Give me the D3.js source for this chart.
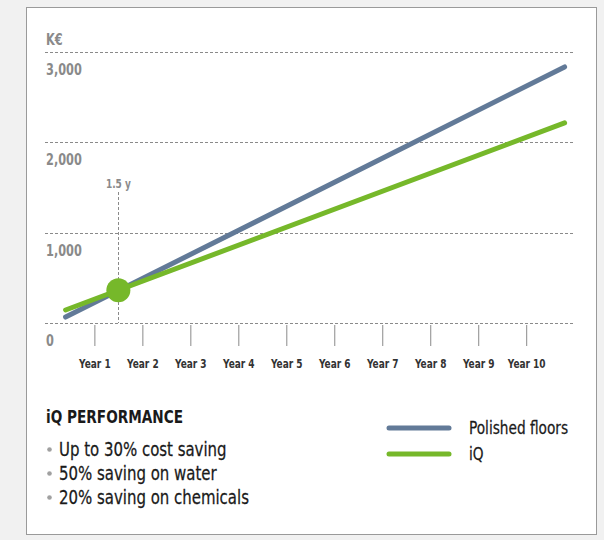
<!DOCTYPE html>
<html>
<head>
<meta charset="utf-8">
<script src="https://cdn.jsdelivr.net/npm/d3@7"></script>
<style>
  body { margin: 0; background: #f1f1f1; }
  text { font-family: "DejaVu Sans Condensed", "DejaVu Sans", sans-serif; }
</style>
</head>
<body>
<svg id="chart" width="604" height="540"></svg>
<script>
const years = ['Year 1', 'Year 2', 'Year 3', 'Year 4', 'Year 5', 'Year 6', 'Year 7', 'Year 8', 'Year 9', 'Year 10'];
const yTicks = [0, 1000, 2000, 3000];
const lineYears = [0.4, 10.8];
const polishedValues = [66, 2835];
const iqValues = [144, 2215];
const breakEvenYear = 1.5;
const breakEvenValue = 362;
const bullets = ['Up to 30% cost saving', '50% saving on water', '20% saving on chemicals'];

const svg = d3.select('#chart');
const blue = '#627a98';
const green = '#76b82a';
const gray = '#8a8a8a';

// text helper: condensed look by squeezing horizontally
const label = (parent, x, y, txt, size, sx) => parent.append('text')
    .attr('transform', `translate(${x}, ${y}) scale(${sx}, 1)`)
    .style('font-size', size + 'px')
    .text(txt);

svg.append('rect')
    .attr('x', 26.5).attr('y', 7.5)
    .attr('width', 570).attr('height', 527)
    .attr('fill', '#fff')
    .attr('stroke', '#9a9a9a');

const xScale = d3.scaleLinear().domain([0, 10]).range([46.4, 526.2]);
const yScale = d3.scaleLinear().domain([0, 3000]).range([323, 52]);

const g = svg.append('g');

// grid
g.selectAll('.grid').data(yTicks)
    .enter().append('line')
    .attr('x1', 45).attr('x2', 575)
    .attr('y1', d => Math.round(yScale(d)) + 0.5)
    .attr('y2', d => Math.round(yScale(d)) + 0.5)
    .attr('stroke', gray)
    .attr('stroke-dasharray', '3,2');

yTicks.forEach(d => {
    label(g, 46, yScale(d) + 23, d3.format(',')(d), 15, 0.84)
        .attr('fill', gray)
        .style('font-weight', 'bold');
});

label(g, 46, 45, 'K€', 15, 0.84)
    .attr('fill', gray)
    .style('font-weight', 'bold');

// x axis ticks
const xAxisG = g.append('g')
    .attr('transform', `translate(0, ${yScale(0)})`)
    .call(d3.axisBottom(xScale)
        .tickValues(d3.range(1, 11))
        .tickSize(23)
        .tickPadding(12)
        .tickFormat((d, i) => years[i]));

xAxisG.select('.domain').remove();
xAxisG.selectAll('.tick line').attr('stroke', gray).attr('y1', 2);
xAxisG.selectAll('.tick text')
    .attr('y', 0)
    .attr('dy', null)
    .attr('transform', 'translate(0, 45) scale(0.8, 1)')
    .attr('fill', '#333')
    .style('font-size', '12.5px')
    .style('font-weight', 'bold')
    .style('font-family', '"DejaVu Sans Condensed", "DejaVu Sans", sans-serif');

// break-even marker
g.append('line')
    .attr('x1', Math.round(xScale(breakEvenYear)) + 0.5)
    .attr('x2', Math.round(xScale(breakEvenYear)) + 0.5)
    .attr('y1', 192).attr('y2', yScale(0))
    .attr('stroke', gray)
    .attr('stroke-dasharray', '3,2');

label(g, xScale(breakEvenYear), 188, '1.5 y', 12.5, 0.8)
    .attr('text-anchor', 'middle')
    .attr('fill', gray)
    .style('font-weight', 'bold');

const line = d3.line()
    .x((d, i) => xScale(lineYears[i]))
    .y(d => yScale(d));

g.append('path')
    .attr('d', line(polishedValues))
    .attr('fill', 'none')
    .attr('stroke', blue)
    .attr('stroke-width', 5)
    .attr('stroke-linecap', 'round');

g.append('path')
    .attr('d', line(iqValues))
    .attr('fill', 'none')
    .attr('stroke', green)
    .attr('stroke-width', 5)
    .attr('stroke-linecap', 'round');

g.append('circle')
    .attr('cx', xScale(breakEvenYear))
    .attr('cy', yScale(breakEvenValue))
    .attr('r', 12)
    .attr('fill', green);

// performance text
label(svg, 46, 423, 'iQ PERFORMANCE', 18.5, 0.82)
    .attr('fill', '#1a1a1a')
    .style('font-weight', 'bold');

bullets.forEach((d, i) => {
    const y = 456 + i * 24;
    svg.append('circle')
        .attr('cx', 49.5).attr('cy', y - 6.5)
        .attr('r', 2.3)
        .attr('fill', '#a0a0a0');
    label(svg, 59, y, d, 19, 0.875)
        .attr('fill', '#1a1a1a')
        .attr('stroke', '#1a1a1a')
        .attr('stroke-width', 0.25);
});

// legend
const legend = [
    { name: 'Polished floors', color: blue },
    { name: 'iQ', color: green }
];
legend.forEach((d, i) => {
    const y = 428 + i * 26;
    svg.append('line')
        .attr('x1', 389).attr('x2', 449)
        .attr('y1', y).attr('y2', y)
        .attr('stroke', d.color)
        .attr('stroke-width', 5)
        .attr('stroke-linecap', 'round');
    label(svg, 469, y + 6, d.name, 17.5, 0.87)
        .attr('fill', '#1a1a1a')
        .attr('stroke', '#1a1a1a')
        .attr('stroke-width', 0.25);
});
</script>
</body>
</html>
